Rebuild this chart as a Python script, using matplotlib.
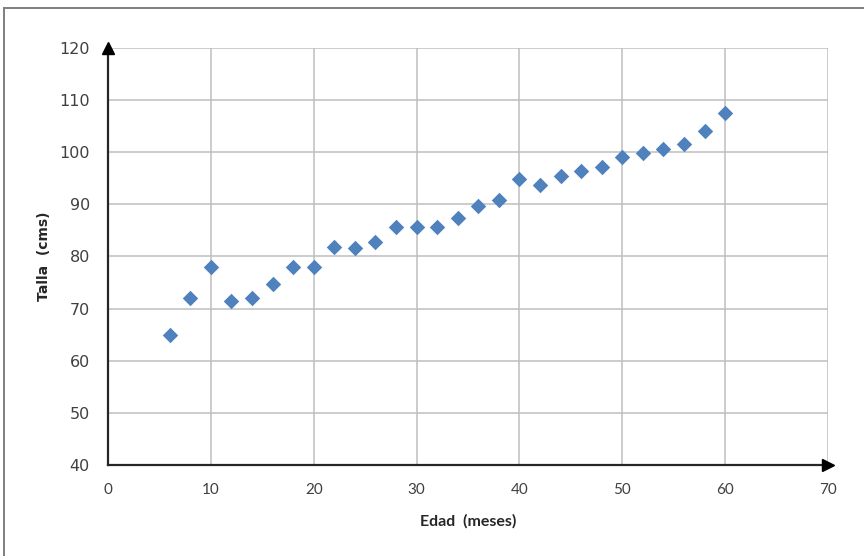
"""Talla vs edad scatter."""

import matplotlib.pyplot as plt
from matplotlib.lines import Line2D

EDAD = [6, 8, 10, 12, 14, 16, 18, 20, 22, 24, 26, 28, 30, 32, 34, 36, 38,
        40, 42, 44, 46, 48, 50, 52, 54, 56, 58, 60]
TALLA = [64.9, 72.1, 77.9, 71.5, 72.1, 74.7, 77.9, 77.9, 81.9, 81.6, 82.7,
         85.7, 85.7, 85.7, 87.4, 89.7, 90.8, 94.9, 93.7, 95.4, 96.4, 97.1,
         99.1, 99.8, 100.6, 101.6, 104.1, 107.6]
X_TICKS = [0, 10, 20, 30, 40, 50, 60, 70]
Y_TICKS = [40, 50, 60, 70, 80, 90, 100, 110, 120]

BLUE = '#4F81BD'
GRID = '#BFBFBF'
AXIS = '#262626'
TEXT = '#404040'


def main():
    fig = plt.figure(figsize=(8.64, 5.56), dpi=100)
    ax = fig.add_axes([0.125, 0.1637, 0.8333, 0.75])

    ax.scatter(EDAD, TALLA, marker='D', s=62, color=BLUE, linewidths=0,
               zorder=3)

    ax.set_xlim(0, 70)
    ax.set_ylim(40, 120)
    ax.set_xticks(X_TICKS)
    ax.set_yticks(Y_TICKS)
    ax.set_xticklabels([str(v) for v in X_TICKS], fontfamily='Lato',
                       fontsize=11, color=TEXT)
    ax.set_yticklabels([str(v) for v in Y_TICKS], fontfamily='DejaVu Sans',
                       fontsize=11.5, color=TEXT)
    ax.tick_params(axis='x', length=0, pad=13)
    ax.tick_params(axis='y', length=0, pad=13)

    ax.grid(True, color=GRID, linewidth=1.1)
    ax.set_axisbelow(True)

    for side in ['top', 'right']:
        ax.spines[side].set_visible(False)
    for side in ['left', 'bottom']:
        ax.spines[side].set_color(AXIS)
        ax.spines[side].set_linewidth(1.6)
        ax.spines[side].set_zorder(4)

    # arrow heads at the ends of both axes
    ax.plot([0], [1], marker='^', markersize=8, color='black',
            transform=ax.transAxes, clip_on=False, zorder=5)
    ax.plot([1], [0], marker='>', markersize=8, color='black',
            transform=ax.transAxes, clip_on=False, zorder=5)

    ax.set_xlabel('Edad  (meses)', fontfamily='Lato', fontsize=11.5,
                  fontweight='bold', color=AXIS, labelpad=12)
    ax.set_ylabel('Talla  (cms)', fontfamily='DejaVu Sans', fontsize=10,
                  fontweight='bold', color=AXIS, labelpad=6)

    # chart area frame (top and left edges)
    fig.add_artist(Line2D([4 / 864, 1], [1 - 8 / 556, 1 - 8 / 556],
                          transform=fig.transFigure, color='#7F7F7F',
                          linewidth=1.4))
    fig.add_artist(Line2D([4 / 864, 4 / 864], [0, 1 - 8 / 556],
                          transform=fig.transFigure, color='#7F7F7F',
                          linewidth=1.4))

    plt.savefig('out.png', dpi=100)
    plt.close()


if __name__ == '__main__':
    main()
